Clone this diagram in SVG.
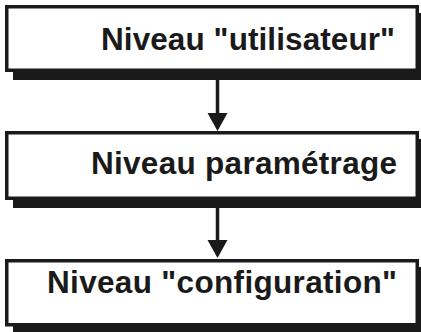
<svg xmlns="http://www.w3.org/2000/svg" width="421" height="332" viewBox="0 0 421 332">
<style>
.shadow{fill:#1a1a1a}
.box{fill:#fff;stroke:#1a1a1a;stroke-width:3.5}
.lbl{font-family:"Liberation Sans",Arial,Helvetica,sans-serif;font-weight:bold;font-size:31.5px;fill:#1a1a1a;text-anchor:end}
.conn{stroke:#1a1a1a;stroke-width:3.5;fill:none}
.head{fill:#1a1a1a}
</style>
<rect width="421" height="332" fill="#fff"/>
<g id="connectors">
<line class="conn" x1="217.5" y1="78" x2="217.5" y2="115"/>
<polygon class="head" points="207.5,113 227.5,113 217.5,131"/>
<line class="conn" x1="217.5" y1="205" x2="217.5" y2="242"/>
<polygon class="head" points="207.5,240 227.5,240 217.5,258"/>
</g>
<g id="node-utilisateur">
<rect class="shadow" x="13" y="13" width="420" height="67"/>
<rect class="box" x="6.75" y="6.75" width="410.5" height="63.5"/>
<text class="lbl" x="395" y="49.5" textLength="294" lengthAdjust="spacing">Niveau "utilisateur"</text>
</g>
<g id="node-parametrage">
<rect class="shadow" x="13" y="139" width="420" height="69"/>
<rect class="box" x="6.75" y="132.75" width="410.5" height="65.5"/>
<text class="lbl" x="397" y="173.5" textLength="306" lengthAdjust="spacing">Niveau paramétrage</text>
</g>
<g id="node-configuration">
<rect class="shadow" x="13" y="267" width="420" height="70"/>
<rect class="box" x="6.75" y="260.75" width="410.5" height="64"/>
<text class="lbl" x="397" y="293" textLength="350" lengthAdjust="spacing">Niveau "configuration"</text>
</g>
</svg>
